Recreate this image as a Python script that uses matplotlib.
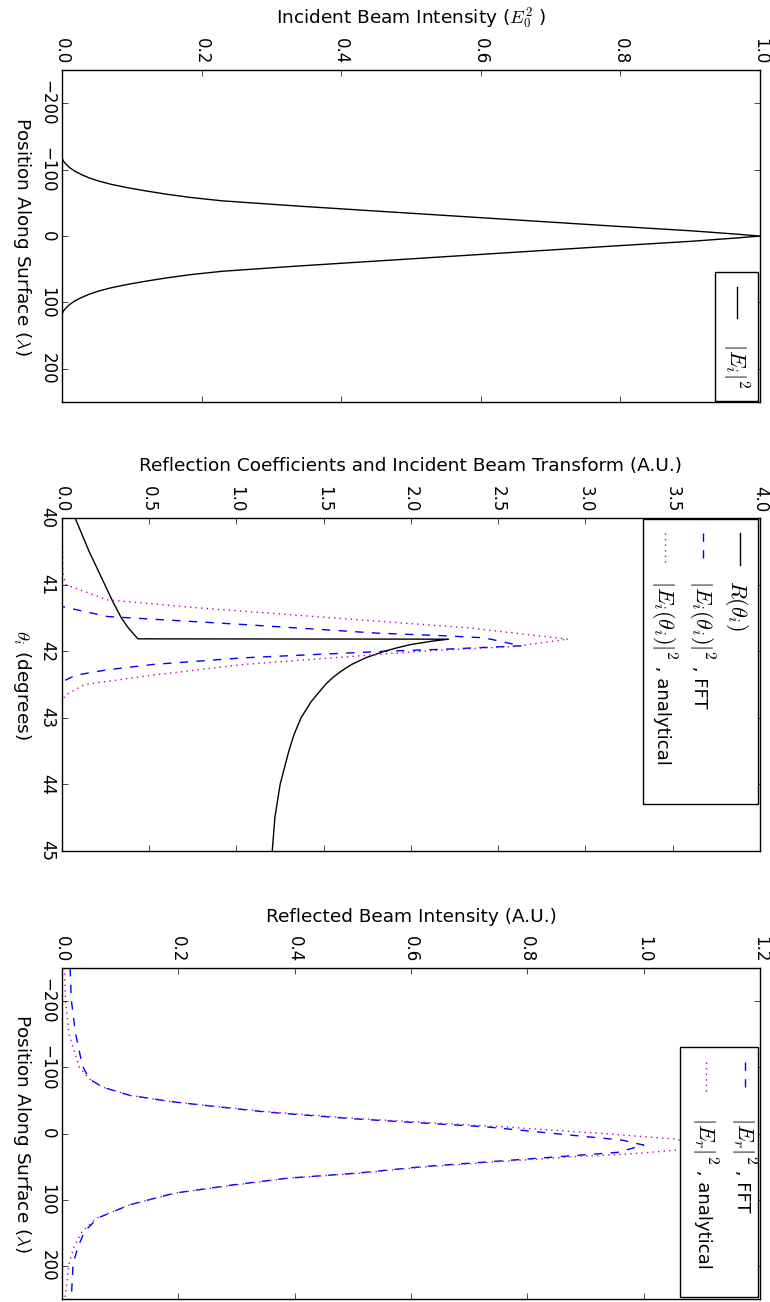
import numpy as np
import matplotlib
matplotlib.use("Agg")
import matplotlib.pyplot as plt
from matplotlib.patches import Rectangle

plt.style.use('classic')
plt.rcParams['figure.facecolor'] = 'white'
plt.rcParams['savefig.facecolor'] = 'white'
plt.rcParams['mathtext.fontset'] = 'cm'

#%%     DATA

# incident beam |E_i|^2 vs position along surface (lambda)
inc_pos = [-250, -118, -113, -108, -103, -98, -93, -88, -83, -78, -73, -68, -63, -58, -53, -45, -35, -25,
           -15, -8, -3, 0, 3, 8, 15, 25, 35, 45, 53, 58, 63, 68, 73, 78, 83, 88, 93, 98, 103, 108,
           113, 118, 250]
inc_int = [0, 0, 0.002, 0.006, 0.011, 0.018, 0.027, 0.038, 0.052, 0.07, 0.093, 0.12, 0.15, 0.185, 0.23,
           0.34, 0.49, 0.64, 0.79, 0.9, 0.965, 1.0, 0.965, 0.9, 0.79, 0.64, 0.49, 0.34, 0.23, 0.185,
           0.15, 0.12, 0.093, 0.07, 0.052, 0.038, 0.027, 0.018, 0.011, 0.006, 0.002, 0, 0]

# reflection coefficient R(theta_i)
r_theta = [40.0, 40.25, 40.5, 40.75, 41.0, 41.25, 41.5, 41.65, 41.815, 41.82, 41.85, 41.9, 41.95, 42.0,
           42.1, 42.2, 42.3, 42.4, 42.5, 42.75, 43.0, 43.25, 43.5, 44.0, 44.5, 45.0]
r_val = [0.075, 0.115, 0.155, 0.2, 0.245, 0.29, 0.34, 0.38, 0.435, 2.215, 2.12, 2.0, 1.92, 1.85,
         1.74, 1.66, 1.6, 1.55, 1.51, 1.43, 1.37, 1.33, 1.3, 1.25, 1.22, 1.205]

# |E_i(theta_i)|^2, FFT
fft_theta = [40.0, 41.2, 41.33, 41.48, 41.6, 41.73, 41.77, 41.8, 41.92, 41.97, 42.0, 42.1, 42.2,
             42.28, 42.36, 42.46, 45.0]
fft_val = [0, 0, 0, 0.26, 1.04, 1.81, 2.2, 2.42, 2.63, 2.2, 1.87, 1.04, 0.52, 0.26, 0.08, 0, 0]

# |E_i(theta_i)|^2, analytical
ana_theta = [40.0, 40.8, 41.0, 41.23, 41.35, 41.5, 41.65, 41.82, 41.93, 42.0, 42.1, 42.2, 42.36,
             42.5, 42.66, 42.75, 45.0]
ana_val = [0, 0.005, 0.02, 0.26, 0.78, 1.55, 2.33, 2.90, 2.59, 2.07, 1.55, 1.04, 0.52,
           0.13, 0.02, 0, 0]

# reflected beam |E_r|^2, FFT
ref_pos = [-250, -202.5, -152.5, -102.5, -82.5, -70, -57.5, -47.5, -32.5, -22.5, -10, 10, 17.5,
           28.5, 35, 42.5, 50, 60, 67.5, 77.5, 90, 107.5, 127.5, 147.5, 172.5, 197.5, 250]
ref_fft = [0.014, 0.016, 0.023, 0.035, 0.047, 0.07, 0.117, 0.194, 0.35, 0.497, 0.73, 0.963, 1.0,
           0.955, 0.854, 0.738, 0.62, 0.505, 0.388, 0.295, 0.194, 0.117, 0.062, 0.039, 0.027, 0.019, 0.016]

# reflected beam |E_r|^2, analytical
ref_pos_a = [-250, -200, -150, -100, -82.5, -70, -57.5, -47.5, -32.5, -22.5, -10, 0, 8.5, 17, 25,
             30, 35, 42.5, 50, 60, 67.5, 77.5, 90, 107.5, 127.5, 147.5, 172.5, 197.5, 250]
ref_ana = [0.004, 0.006, 0.012, 0.03, 0.047, 0.07, 0.117, 0.194, 0.36, 0.51, 0.76, 0.93, 1.056, 1.09, 1.056,
           0.99, 0.88, 0.75, 0.63, 0.51, 0.39, 0.3, 0.195, 0.117, 0.06, 0.035, 0.02, 0.012, 0.005]

#%%     HELPERS

LABEL_FS = 13.3

def setup(ax, vlim, vticks, plim, pticks, vlabel, plabel):
    ax.set_xlim(vlim)
    ax.set_xticks(vticks)
    ax.set_ylim(plim[1], plim[0])
    ax.set_yticks(pticks)
    ax.xaxis.set_ticks_position('both')
    ax.yaxis.set_ticks_position('both')
    ax.tick_params(axis='x', labeltop=True, labelbottom=False)
    ax.tick_params(axis='y', labelleft=True, labelright=False)
    plt.setp(ax.get_xticklabels(), rotation=-90, va='bottom', ha='center')
    plt.setp(ax.get_yticklabels(), rotation=-90, va='center', ha='right')
    ax.xaxis.set_label_position('top')
    ax.set_xlabel(vlabel, fontsize=LABEL_FS, va='center', ha='center')
    ax.xaxis.set_label_coords(0.5, 1.155)
    ax.set_ylabel(plabel, fontsize=LABEL_FS, rotation=-90, va='center', ha='center',
                  rotation_mode='anchor')
    ax.yaxis.set_label_coords(-0.057, 0.5)


def rot_legend(ax, box, xs, line_y, text_y, styles, maths, tails):
    x0, y0, x1, y1 = box
    ax.add_patch(Rectangle((x0, y0), x1 - x0, y1 - y0, transform=ax.transAxes,
                           fc='w', ec='k', lw=1, zorder=5, clip_on=False))
    renderer = fig.canvas.get_renderer()
    for xe, st, m, t in zip(xs, styles, maths, tails):
        ax.plot([xe, xe], line_y, transform=ax.transAxes, zorder=6, clip_on=False, **st)
        t1 = ax.annotate(m, xy=(xe, text_y), xycoords='axes fraction', xytext=(-6, 0),
                         textcoords='offset points', rotation=-90, rotation_mode='anchor',
                         ha='left', va='baseline', fontsize=16, zorder=7)
        if t:
            length = t1.get_window_extent(renderer).height * 72.0 / fig.dpi
            ax.annotate(t, xy=(xe, text_y), xycoords='axes fraction', xytext=(-6, -length),
                        textcoords='offset points', rotation=-90, rotation_mode='anchor',
                        ha='left', va='baseline', fontsize=13, zorder=7)


solid = dict(color='k', ls='-', lw=1)
dash = dict(color='b', ls='--', lw=1)
dot = dict(color='m', ls=':', lw=1)

#%%     FIGURE

fig = plt.figure(figsize=(7.7, 13.02), dpi=100)
ax1 = fig.add_axes([0.0805, 0.6912, 0.9065, 0.2550])
ax2 = fig.add_axes([0.0805, 0.3464, 0.9065, 0.2558])
ax3 = fig.add_axes([0.0805, 0.0023, 0.9065, 0.2542])

ax1.plot(inc_int, inc_pos, **solid)
setup(ax1, (0, 1), np.arange(0, 1.01, 0.2), (-250, 250), [-200, -100, 0, 100, 200],
      r'Incident Beam Intensity ($E_0^2$ )', r'Position Along Surface ($\lambda$)')
rot_legend(ax1, (0.936, 0.003, 0.997, 0.392), [0.967], (0.346, 0.253), 0.178,
           [solid], [r'$|E_i|^2$'], [''])

ax2.plot(r_val, r_theta, **solid)
ax2.plot(fft_val, fft_theta, **dash)
ax2.plot(ana_val, ana_theta, **dot)
setup(ax2, (0, 4), np.arange(0, 4.01, 0.5), (40, 45), [40, 41, 42, 43, 44, 45],
      'Reflection Coefficients and Incident Beam Transform (A.U.)', r'$\theta_i$ (degrees)')
rot_legend(ax2, (0.832, 0.141, 0.997, 0.997), [0.971, 0.918, 0.864], (0.955, 0.859), 0.814,
           [solid, dash, dot],
           [r'$R(\theta_i)$', r'$|E_i(\theta_i)|^2$', r'$|E_i(\theta_i)|^2$'],
           ['', ' , FFT', ' , analytical'])

ax3.plot(ref_fft, ref_pos, **dash)
ax3.plot(ref_ana, ref_pos_a, **dot)
setup(ax3, (0, 1.2), np.arange(0, 1.21, 0.2), (-250, 250), [-200, -100, 0, 100, 200],
      'Reflected Beam Intensity (A.U.)', r'Position Along Surface ($\lambda$)')
rot_legend(ax3, (0.885, 0.006, 0.997, 0.761), [0.9785, 0.9226], (0.716, 0.625), 0.55,
           [dash, dot], [r'$|E_r|^2$', r'$|E_r|^2$'], [' , FFT', ' , analytical'])

fig.savefig('out.png', dpi=100)
